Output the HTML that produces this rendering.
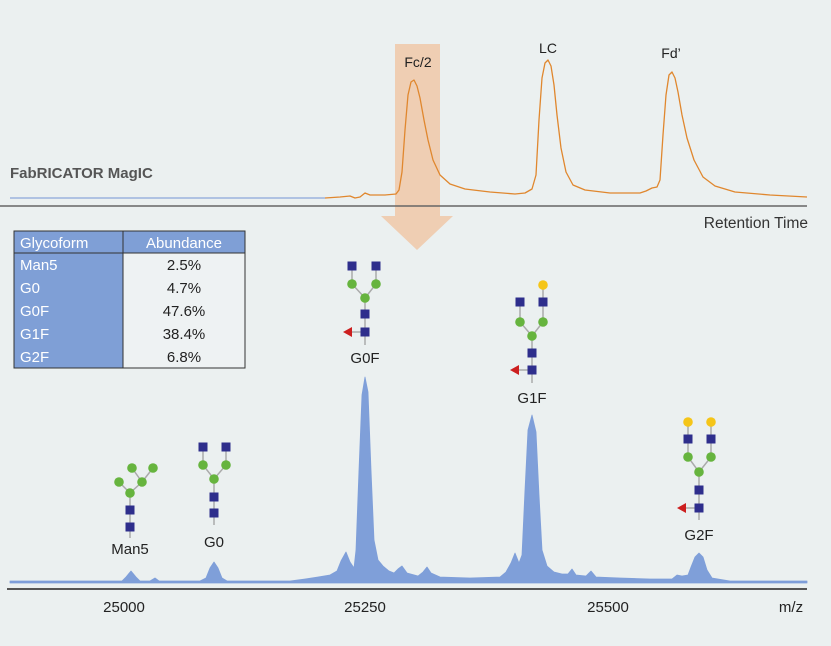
<!DOCTYPE html>
<html><head><meta charset="utf-8"><style>
body{margin:0;background:#ebf0f0;}
svg{display:block;font-family:"Liberation Sans",sans-serif;}
</style></head><body>
<svg width="831" height="646" viewBox="0 0 831 646">
<rect width="831" height="646" fill="#ebf0f0"/>
<polygon points="395,44 440,44 440,216 453,216 417,250 381,216 395,216" fill="#f0c8a8" opacity="0.85"/>
<line x1="10" y1="198" x2="325" y2="198" stroke="#9bb2dd" stroke-width="1.5"/>
<polyline fill="none" stroke="#e0872e" stroke-width="1.3" stroke-linejoin="round" points="325,198 340,197 350,196 355,198 360,197 365,193 370,195 385,195 396,194 399,190 402,172 405,130 408,95 411,82 414,80 417,86 420,98 424,120 428,140 433,160 440,175 450,184 465,189 490,192 515,194 525,193 532,189 536,175 539,120 542,78 545,63 548,60 551,66 554,85 557,115 561,148 566,172 573,185 585,190 610,193 640,193 646,191 652,188 657,187 660,180 663,135 666,95 669,75 672,72 675,78 678,92 682,115 687,138 694,160 703,177 715,186 735,192 770,195 807,197"/>
<line x1="0" y1="206" x2="807" y2="206" stroke="#666" stroke-width="1.5"/>
<text x="10" y="178" font-size="15" font-weight="bold" fill="#555">FabRICATOR MagIC</text>
<text x="808" y="228" font-size="15.5" fill="#333" text-anchor="end">Retention Time</text>
<text x="418" y="67" font-size="14" fill="#222" text-anchor="middle">Fc/2</text>
<text x="548" y="53" font-size="14" fill="#222" text-anchor="middle">LC</text>
<text x="671" y="58" font-size="14" fill="#222" text-anchor="middle">Fd’</text>
<g font-size="15">
<rect x="14" y="231" width="231" height="137" fill="#eef2f3" stroke="#333"/>
<rect x="14" y="231" width="231" height="22" fill="#7f9fd6" stroke="#333"/>
<rect x="14" y="253" width="109" height="115" fill="#7f9fd6" stroke="#333"/>
<line x1="123" y1="231" x2="123" y2="368" stroke="#333"/>
<text x="20" y="248" fill="#fff">Glycoform</text><text x="184" y="248" fill="#fff" text-anchor="middle">Abundance</text>
<text x="20" y="270" fill="#fff">Man5</text><text x="184" y="270" fill="#222" text-anchor="middle">2.5%</text>
<text x="20" y="293" fill="#fff">G0</text><text x="184" y="293" fill="#222" text-anchor="middle">4.7%</text>
<text x="20" y="316" fill="#fff">G0F</text><text x="184" y="316" fill="#222" text-anchor="middle">47.6%</text>
<text x="20" y="339" fill="#fff">G1F</text><text x="184" y="339" fill="#222" text-anchor="middle">38.4%</text>
<text x="20" y="362" fill="#fff">G2F</text><text x="184" y="362" fill="#222" text-anchor="middle">6.8%</text>
</g>
<polygon fill="#7f9fd9" stroke="#7f9fd9" stroke-width="0.8" stroke-linejoin="round" points="10,581 122,581 126,577 131,571 136,577 140,581 150,581 155,578 159,581 200,581 206,578 210,568 214,562 218,568 222,578 227,581 290,581 305,579 318,577 330,575 337,571 341,561 346,552 350,562 354,568 356,550 359,470 362,395 365,377 368,392 371,470 374,540 378,560 383,566 389,571 394,573 398,569 402,566 407,573 418,576 423,572 427,567 431,573 440,577 470,578 500,577 506,572 511,563 515,553 519,563 522,555 525,490 528,430 532,415 536,432 539,495 542,550 547,566 554,572 562,574 568,574 572,569 576,575 586,576 591,571 596,577 620,578 650,579 672,579 677,575 682,576 688,575 691,567 695,557 699,553 703,557 707,570 712,578 730,581 807,581 807,583 10,583"/>
<line x1="7" y1="589" x2="807" y2="589" stroke="#555" stroke-width="2"/>
<g font-size="15" fill="#222" text-anchor="middle">
<text x="124" y="612">25000</text><text x="365" y="612">25250</text><text x="608" y="612">25500</text>
<text x="791" y="612">m/z</text>
</g>
<g stroke="#aaa" stroke-width="1.5" fill="none">
<polyline points="352,266 352,284 365,298 376,284 376,266"/><line x1="365" y1="298" x2="365" y2="345"/><line x1="348" y1="332" x2="365" y2="332"/>
<polyline points="520,302 520,322 532,336 543,322 543,285"/><line x1="532" y1="336" x2="532" y2="383"/><line x1="515" y1="370" x2="532" y2="370"/>
<polyline points="688,422 688,457 699,472 711,457 711,422"/><line x1="699" y1="472" x2="699" y2="520"/><line x1="682" y1="508" x2="699" y2="508"/>
<polyline points="203,447 203,465 214,479 226,465 226,447"/><line x1="214" y1="479" x2="214" y2="525"/>
<polyline points="119,482 130,493 142,482 132,468"/><line x1="142" y1="482" x2="153" y2="468"/><line x1="130" y1="493" x2="130" y2="538"/>
</g>
<g fill="#2e2e8c">
<rect x="347.5" y="261.5" width="9" height="9"/><rect x="371.5" y="261.5" width="9" height="9"/><rect x="360.5" y="309.5" width="9" height="9"/><rect x="360.5" y="327.5" width="9" height="9"/>
<rect x="515.5" y="297.5" width="9" height="9"/><rect x="538.5" y="297.5" width="9" height="9"/><rect x="527.5" y="348.5" width="9" height="9"/><rect x="527.5" y="365.5" width="9" height="9"/>
<rect x="683.5" y="434.5" width="9" height="9"/><rect x="706.5" y="434.5" width="9" height="9"/><rect x="694.5" y="485.5" width="9" height="9"/><rect x="694.5" y="503.5" width="9" height="9"/>
<rect x="198.5" y="442.5" width="9" height="9"/><rect x="221.5" y="442.5" width="9" height="9"/><rect x="209.5" y="492.5" width="9" height="9"/><rect x="209.5" y="508.5" width="9" height="9"/>
<rect x="125.5" y="505.5" width="9" height="9"/><rect x="125.5" y="522.5" width="9" height="9"/>
</g>
<g fill="#66b43e">
<circle cx="352" cy="284" r="4.8"/><circle cx="376" cy="284" r="4.8"/><circle cx="365" cy="298" r="4.8"/>
<circle cx="520" cy="322" r="4.8"/><circle cx="543" cy="322" r="4.8"/><circle cx="532" cy="336" r="4.8"/>
<circle cx="688" cy="457" r="4.8"/><circle cx="711" cy="457" r="4.8"/><circle cx="699" cy="472" r="4.8"/>
<circle cx="203" cy="465" r="4.8"/><circle cx="226" cy="465" r="4.8"/><circle cx="214" cy="479" r="4.8"/>
<circle cx="132" cy="468" r="4.8"/><circle cx="153" cy="468" r="4.8"/><circle cx="119" cy="482" r="4.8"/><circle cx="142" cy="482" r="4.8"/><circle cx="130" cy="493" r="4.8"/>
</g>
<g fill="#f5c518">
<circle cx="543" cy="285" r="4.8"/><circle cx="688" cy="422" r="4.8"/><circle cx="711" cy="422" r="4.8"/>
</g>
<g fill="#cc1f1f">
<polygon points="343,332 352,327 352,337"/><polygon points="510,370 519,365 519,375"/><polygon points="677,508 686,503 686,513"/>
</g>
<g font-size="15" fill="#222" text-anchor="middle">
<text x="365" y="363">G0F</text><text x="532" y="403">G1F</text><text x="699" y="540">G2F</text>
<text x="214" y="547">G0</text><text x="130" y="554">Man5</text>
</g>
</svg>
</body></html>
